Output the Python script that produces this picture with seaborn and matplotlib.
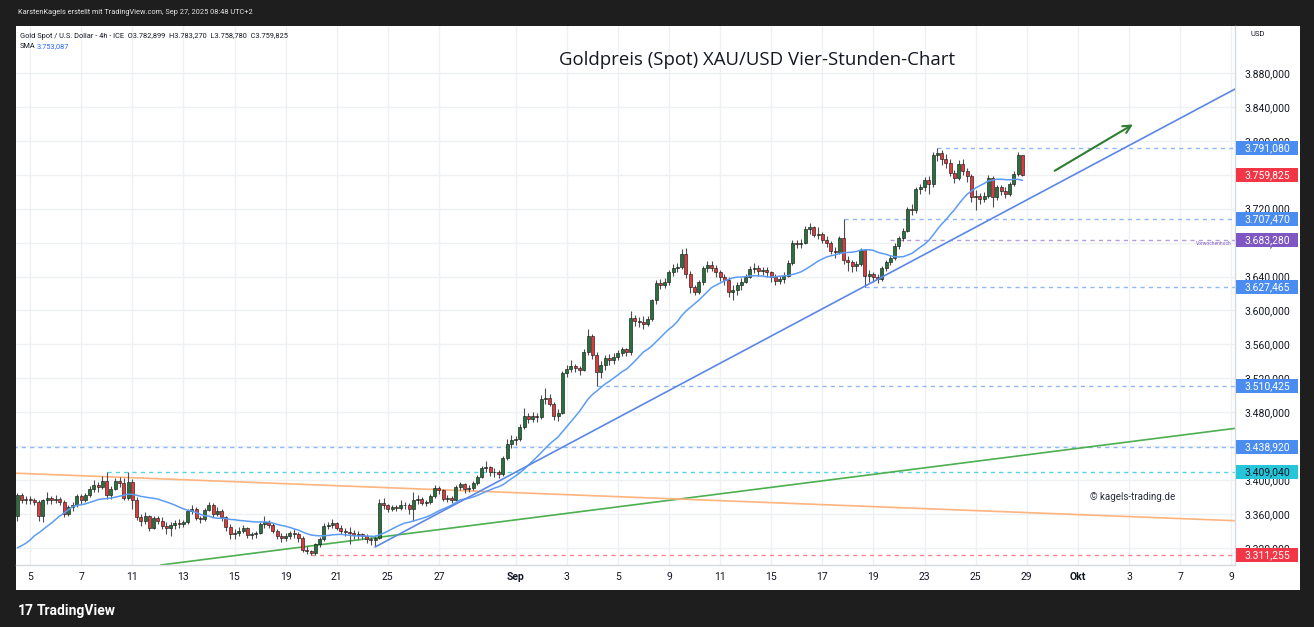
import numpy as np
import pandas as pd
import seaborn as sns
import matplotlib.pyplot as plt
import matplotlib.transforms as mtransforms
from matplotlib.patches import Rectangle

# ---- data (XAU/USD, 4h bars, 6 bars per trading day) ----
# closes just left of the visible window, only used to warm up the SMA(20)
warmup_closes = [3325, 3320, 3300, 3275,
                 3290, 3295, 3300, 3305, 3290, 3290,
                 3292, 3290, 3300, 3350, 3360, 3362,
                 3355, 3360, 3358]

# visible bars start at bar -3 (Aug 4, 3rd bar); bar 6*t = first bar of trading day t
closes = [
    3382, 3376, 3378,                              # Aug 4
    3376, 3374, 3357, 3376, 3379, 3377,            # Aug 5
    3378, 3374, 3360, 3368, 3370, 3381,            # Aug 6
    3376, 3382, 3389, 3394, 3392, 3399,            # Aug 7
    3382, 3390, 3399, 3397, 3379, 3398,            # Aug 8
    3377, 3356, 3352, 3357, 3344, 3355,            # Aug 11
    3352, 3346, 3344, 3347, 3349, 3348,            # Aug 12
    3350, 3364, 3366, 3355, 3354, 3365,            # Aug 13
    3370, 3360, 3364, 3356, 3345, 3336,            # Aug 14
    3338, 3340, 3343, 3335, 3336, 3337,            # Aug 15
    3348, 3350, 3347, 3340, 3334, 3332,            # Aug 18
    3334, 3337, 3336, 3332, 3318, 3316,            # Aug 19
    3314, 3324, 3330, 3346, 3347, 3349,            # Aug 20
    3344, 3340, 3339, 3338, 3335, 3336,            # Aug 21
    3334, 3331, 3329, 3332, 3373, 3371,            # Aug 22
    3366, 3368, 3367, 3370, 3371, 3366,            # Aug 25
    3376, 3378, 3373, 3374, 3381, 3391,            # Aug 26
    3388, 3378, 3379, 3377, 3392, 3395,            # Aug 27
    3389, 3391, 3396, 3404, 3414, 3415,            # Aug 28
    3410, 3409, 3407, 3426, 3442, 3447,            # Aug 29
    3448, 3462, 3475, 3472, 3476, 3474,            # Sep 1
    3496, 3497, 3490, 3476, 3479, 3526,            # Sep 2
    3531, 3534, 3532, 3530, 3551, 3570,            # Sep 3
    3548, 3527, 3536, 3544, 3541, 3545,            # Sep 4
    3550, 3554, 3551, 3591, 3588, 3586,            # Sep 5
    3584, 3590, 3612, 3632, 3630, 3633,            # Sep 8
    3645, 3650, 3651, 3666, 3643, 3628,            # Sep 9
    3622, 3634, 3650, 3654, 3650, 3645,            # Sep 10
    3640, 3636, 3622, 3624, 3630, 3634,            # Sep 11
    3640, 3649, 3650, 3646, 3648, 3645,            # Sep 12
    3640, 3635, 3637, 3641, 3656, 3679,            # Sep 15
    3678, 3680, 3696, 3698, 3689, 3690,            # Sep 16
    3683, 3679, 3670, 3669, 3685, 3660,            # Sep 17
    3657, 3652, 3655, 3671, 3641, 3643,            # Sep 18
    3640, 3637, 3650, 3657, 3662, 3676,            # Sep 19
    3685, 3694, 3720, 3718, 3743, 3746,            # Sep 22
    3754, 3749, 3783, 3786, 3778, 3774,            # Sep 23
    3762, 3756, 3773, 3764, 3758, 3734,            # Sep 24
    3735, 3731, 3735, 3756, 3734, 3745,            # Sep 25
    3741, 3737, 3749, 3761, 3782.899, 3759.825,    # Sep 26
]
highs = [
    3385, 3385, 3381,
    3381, 3379, 3376, 3378, 3386, 3381,
    3382, 3380, 3376, 3371, 3374, 3384,
    3383, 3385, 3393, 3400, 3398, 3405,
    3409, 3393, 3402, 3403, 3402, 3409,
    3401, 3380, 3360, 3362, 3359, 3358,
    3358, 3356, 3350, 3351, 3353, 3354,
    3353, 3366, 3370, 3368, 3358, 3367,
    3374, 3373, 3368, 3366, 3358, 3348,
    3342, 3345, 3347, 3345, 3339, 3340,
    3351, 3358, 3353, 3349, 3342, 3337,
    3338, 3340, 3342, 3339, 3334, 3322,
    3318, 3326, 3333, 3349, 3351, 3354,
    3351, 3347, 3343, 3345, 3341, 3340,
    3338, 3336, 3333, 3335, 3378, 3379,
    3372, 3371, 3371, 3376, 3374, 3373,
    3386, 3382, 3380, 3377, 3384, 3394,
    3393, 3389, 3382, 3381, 3394, 3398,
    3396, 3394, 3399, 3406, 3416, 3423,
    3416, 3414, 3412, 3428, 3448, 3453,
    3452, 3466, 3485, 3479, 3480, 3479,
    3500, 3508, 3501, 3492, 3484, 3529,
    3536, 3541, 3537, 3534, 3554, 3578,
    3572, 3551, 3540, 3548, 3549, 3550,
    3553, 3557, 3556, 3599, 3595, 3592,
    3594, 3593, 3614, 3636, 3637, 3638,
    3648, 3655, 3656, 3672, 3674, 3646,
    3630, 3636, 3652, 3658, 3658, 3653,
    3648, 3643, 3640, 3630, 3633, 3638,
    3643, 3652, 3656, 3653, 3651, 3651,
    3646, 3643, 3641, 3645, 3659, 3683,
    3683, 3684, 3699, 3703, 3700, 3698,
    3692, 3688, 3682, 3675, 3688, 3707.47,
    3664, 3660, 3658, 3674, 3673, 3648,
    3645, 3643, 3652, 3660, 3665, 3679,
    3688, 3697, 3722, 3726, 3745, 3749,
    3757, 3758, 3787, 3791.08, 3789, 3784,
    3778, 3766, 3777, 3778, 3768, 3761,
    3742, 3738, 3740, 3760, 3758, 3748,
    3748, 3745, 3751, 3764, 3787, 3783.27,
]
lows = [
    3352, 3373, 3372,
    3372, 3370, 3352, 3350, 3372, 3372,
    3373, 3371, 3356, 3358, 3364, 3368,
    3372, 3374, 3380, 3386, 3386, 3390,
    3378, 3378, 3388, 3392, 3376, 3376,
    3366, 3353, 3346, 3348, 3340, 3342,
    3348, 3342, 3336, 3334, 3342, 3344,
    3345, 3348, 3360, 3353, 3349, 3352,
    3363, 3356, 3358, 3352, 3340, 3331,
    3331, 3334, 3337, 3332, 3330, 3332,
    3336, 3344, 3343, 3338, 3331, 3327,
    3328, 3331, 3332, 3327, 3315, 3313,
    3311.255, 3312, 3321, 3328, 3342, 3344,
    3341, 3336, 3334, 3324, 3331, 3330,
    3330, 3326, 3323, 3322, 3330, 3366,
    3362, 3363, 3363, 3365, 3366, 3360,
    3352, 3372, 3370, 3369, 3372, 3379,
    3384, 3375, 3374, 3373, 3376, 3388,
    3385, 3386, 3388, 3394, 3402, 3409,
    3405, 3404, 3402, 3405, 3424, 3438,
    3441, 3446, 3460, 3467, 3469, 3469,
    3472, 3490, 3487, 3471, 3470, 3478,
    3521, 3527, 3527, 3524, 3528, 3548,
    3543, 3510.425, 3520, 3530, 3536, 3537,
    3541, 3546, 3546, 3548, 3582, 3580,
    3578, 3582, 3588, 3608, 3625, 3626,
    3630, 3641, 3645, 3649, 3638, 3621,
    3618, 3619, 3630, 3645, 3646, 3640,
    3635, 3630, 3616, 3612, 3618, 3624,
    3632, 3638, 3644, 3641, 3642, 3640,
    3634, 3630, 3631, 3632, 3639, 3654,
    3674, 3674, 3678, 3690, 3686, 3684,
    3679, 3675, 3666, 3662, 3667, 3655,
    3646, 3645, 3646, 3652, 3627.465, 3634,
    3634, 3632, 3635, 3647, 3654, 3660,
    3672, 3682, 3692, 3712, 3715, 3737,
    3741, 3737, 3745, 3776, 3772, 3768,
    3758, 3750, 3754, 3760, 3752, 3728,
    3718, 3725, 3728, 3733, 3722, 3730,
    3736, 3732, 3735, 3747, 3759, 3758.78,
]
first_bar = -3

# time axis: first bar of every second trading day
tick_bars = [0, 12, 24, 36, 48, 60, 72, 84, 96, 114, 126, 138,
             150, 162, 174, 186, 198, 210, 222, 234, 246, 258, 270, 282]
tick_labels = ["5", "7", "11", "13", "15", "19", "21", "25", "27", "Sep", "3", "5",
               "9", "11", "15", "17", "19", "23", "25", "29", "Okt", "3", "7", "9"]
price_ticks = list(range(3320, 3881, 40))

# horizontal levels (price, first bar)
level_prices = [3791.080, 3707.470, 3683.280, 3627.465, 3510.425, 3438.920, 3409.040, 3311.255]
level_start = [213, 191, 202, 196, 133, -4, 18, 66]
level_kind = ["blue", "blue", "purple", "blue", "blue", "blue", "cyan", "red"]

# trend lines: two anchor points (bar, price) each
up_line = ([81, 284], [3321, 3864])       # blue ray
green_line = ([31, 283], [3300, 3461])
orange_line = ([-3, 283], [3408, 3352])
arrow_from = (240, 3763)
arrow_to = (259.5, 3821)

sma_len = 20
sma_last = 3753.087

# ---- frame ----
W, H = 1314, 627
DARK = "#1e1e1e"
TXT = "#131722"
kind_color = {"blue": "#4a8cf0", "purple": "#7e57c2", "cyan": "#26c6da", "red": "#f23645"}
line_color = {"blue": "#8fb8f5", "purple": "#b39ddb", "cyan": "#56d4e4", "red": "#f7858b"}

sns.set_style("white")
plt.rcParams["font.family"] = ["Roboto", "DejaVu Sans"]

fig = plt.figure(figsize=(W / 100, H / 100), dpi=100, facecolor=DARK)
fig.patches.append(Rectangle((16 / W, 1 - 590 / H), 1284 / W, 564 / H,
                             transform=fig.transFigure, fc="white", ec="none", zorder=-1))

ax = fig.add_axes([16 / W, 62 / H, 1219 / W, 539 / H])
ax.set_xlim(-3.3, 282.9)
ax.set_ylim(3299.8, 3935.4)

# ---- candles ----
df = pd.DataFrame({"bar": np.arange(first_bar, first_bar + len(closes)),
                   "close": closes, "high": highs, "low": lows})
df["open"] = df["close"].shift(1)
df.loc[0, "open"] = warmup_closes[-1]
all_close = pd.Series(warmup_closes + closes)
df["sma"] = all_close.rolling(sma_len).mean().iloc[len(warmup_closes):].values

up = df["close"] >= df["open"]
body = (df["close"] - df["open"]).abs().clip(lower=0.8)
bottom = df[["open", "close"]].min(axis=1)
ax.vlines(df["bar"], df["low"], df["high"], color="#4d4d4d", lw=0.8, zorder=3)
ax.bar(df["bar"], body, bottom=bottom, width=0.7,
       color=np.where(up, "#25733a", "#e0393b"), edgecolor="#1c1c1c",
       linewidth=0.45, zorder=3.2)

# ---- SMA + drawings ----
sns.lineplot(data=df, x="bar", y="sma", ax=ax, color="#5c9cf5", lw=1.1, zorder=4)
ax.plot(*up_line, color="#5b87e6", lw=1.2, zorder=4)
ax.axline((green_line[0][0], green_line[1][0]), (green_line[0][1], green_line[1][1]),
          color="#4caf50", lw=1.2, zorder=2.5)
ax.axline((orange_line[0][0], orange_line[1][0]), (orange_line[0][1], orange_line[1][1]),
          color="#ffb47e", lw=1.2, zorder=2.5)
for p, s, k in zip(level_prices, level_start, level_kind):
    ax.hlines(p, s, 290, color=line_color[k], lw=1.0, linestyles=(0, (3, 3)), zorder=2)
ax.annotate("", xy=arrow_to, xytext=arrow_from,
            arrowprops=dict(arrowstyle="->", color="#2e7d32", lw=1.5, mutation_scale=14),
            zorder=5)

# ---- axes styling ----
def de_fmt(v):
    return f"{v:,.3f}".replace(",", "X").replace(".", ",").replace("X", ".")

ax.set_xticks(tick_bars)
ax.set_xticklabels(tick_labels)
for lab in ax.get_xticklabels():
    if lab.get_text() in ("Sep", "Okt"):
        lab.set_fontweight("bold")
ax.set_yticks(price_ticks)
ax.set_yticklabels([de_fmt(v) for v in price_ticks])
ax.yaxis.tick_right()
ax.tick_params(axis="y", length=0, pad=7, labelsize=7.5, labelcolor=TXT)
ax.tick_params(axis="x", length=0, pad=5, labelsize=7.5, labelcolor=TXT)
ax.set_xlabel("")
ax.set_ylabel("")
ax.grid(True, color="#eef0f4", lw=1)
ax.set_axisbelow(True)
for side in ("top", "left"):
    ax.spines[side].set_visible(False)
for side in ("right", "bottom"):
    ax.spines[side].set_color("#d6d9e0")
    ax.spines[side].set_linewidth(1)

# ---- price labels on the scale ----
blend = mtransforms.blended_transform_factory(ax.transAxes, ax.transData)
box_h = 16.5
labels = list(zip(level_prices, level_kind)) + [(closes[-1], "red")]
for p, k in labels:
    ax.add_patch(Rectangle((1.0012, p - box_h / 2), 0.0508, box_h, transform=blend,
                           fc=kind_color[k], ec="none", clip_on=False, zorder=6))
    ax.text(1.0082, p, de_fmt(p), transform=blend, ha="left", va="center", fontsize=7.5,
            color=TXT if k == "cyan" else "white", zorder=7, clip_on=False)

ax.text(1.013, 0.985, "USD", transform=ax.transAxes, fontsize=5.5, color=TXT,
        ha="left", va="center")
ax.text(282.2, 3679, "Vorwochenhoch", fontsize=3.5, color="#7e57c2", ha="right", va="center")

# ---- texts ----
ax.text(170.7, 3895, "Goldpreis (Spot) XAU/USD Vier-Stunden-Chart", fontsize=13.4,
        family=["Open Sans", "DejaVu Sans"], color=TXT, ha="center", va="center")
ax.text(248.8, 3380, "© kagels-trading.de", fontsize=7, color="#2a2e39", ha="left", va="center")
last = df.iloc[-1]
header = ("Gold Spot / U.S. Dollar - 4h - ICE  "
          f"O{de_fmt(last['open'])}  H{de_fmt(last['high'])}  "
          f"L{de_fmt(last['low'])}  C{de_fmt(last['close'])}")
fig.text(20 / W, 1 - 37 / H, header, fontsize=5.3, color=TXT, va="center")
fig.text(20 / W, 1 - 47 / H, "SMA", fontsize=5.3, color=TXT, va="center")
fig.text(37 / W, 1 - 47 / H, de_fmt(sma_last), fontsize=5.3, color="#2962ff", va="center")
fig.text(18 / W, 1 - 12 / H, "KarstenKagels erstellt mit TradingView.com, Sep 27, 2025 08:48 UTC+2",
         fontsize=5.3, color="#e6e6e6", va="center")
fig.text(18 / W, 1 - 611 / H, "17", fontsize=10, fontweight="bold", color="white", va="center")
fig.text(37 / W, 1 - 611 / H, "TradingView", fontsize=10, fontweight="bold", color="white",
         va="center")

fig.savefig("out.png", dpi=100, facecolor=DARK)
